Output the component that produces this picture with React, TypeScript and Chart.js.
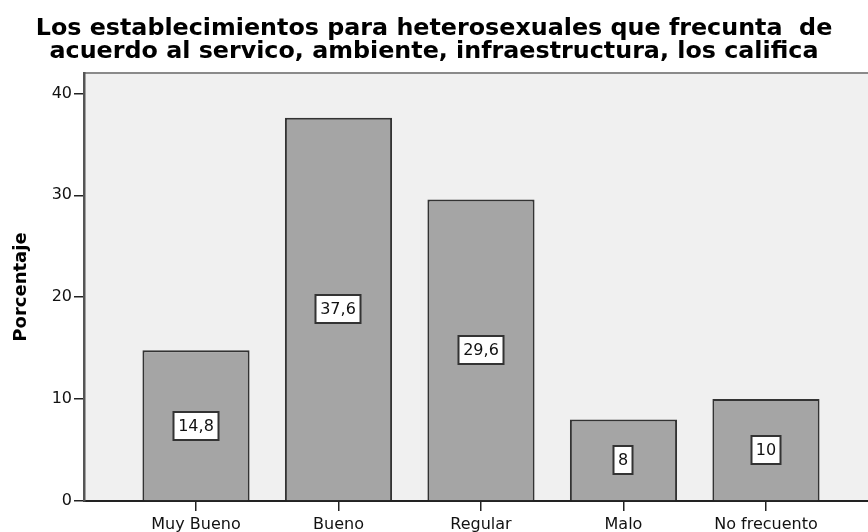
import { useEffect, useRef } from "react";
import { Chart, registerables } from "chart.js";

Chart.register(...registerables);

// Rating categories and their share of respondents (%)
const categories = ["Muy Bueno", "Bueno", "Regular", "Malo", "No frecuento"];
const percentages = [14.8, 37.6, 29.6, 8, 10];
const yTicks = [0, 10, 20, 30, 40];
const titleLines = [
  "Los establecimientos para heterosexuales que frecunta  de",
  "acuerdo al servico, ambiente, infraestructura, los califica",
];
const yAxisTitle = "Porcentaje";

const FONT = "'DejaVu Sans', 'Liberation Sans', sans-serif";
const INK = "#111111";

const formatValue = (v: number) => String(v).replace(".", ",");

// Light grey panel behind the bars, with a grey frame line along the top
const plotBackground = {
  id: "plotBackground",
  beforeDraw(chart: any) {
    const { ctx, chartArea: a } = chart;
    ctx.save();
    ctx.fillStyle = "#f0f0f0";
    ctx.fillRect(a.left, a.top, a.right - a.left, a.bottom - a.top);
    ctx.strokeStyle = "#8a8a8a";
    ctx.lineWidth = 2;
    ctx.beginPath();
    ctx.moveTo(a.left, a.top);
    ctx.lineTo(a.right, a.top);
    ctx.stroke();
    ctx.restore();
  },
};

// Boxed value label in the middle of each bar
const valueBoxes = {
  id: "valueBoxes",
  afterDatasetsDraw(chart: any) {
    const { ctx } = chart;
    const meta = chart.getDatasetMeta(0);
    const yScale = chart.scales.y;
    ctx.save();
    ctx.font = `16px ${FONT}`;
    ctx.textAlign = "center";
    ctx.textBaseline = "middle";
    meta.data.forEach((bar: any, i: number) => {
      const v = percentages[i];
      const text = formatValue(v);
      const cx = Math.round(bar.x);
      const cy = Math.round(yScale.getPixelForValue(v / 2));
      const w = Math.round(ctx.measureText(text).width + 9);
      const h = 28;
      const x0 = cx - w / 2;
      const y0 = cy - h / 2;
      ctx.fillStyle = "#ffffff";
      ctx.fillRect(x0, y0, w, h);
      ctx.strokeStyle = "#333333";
      ctx.lineWidth = 2;
      ctx.strokeRect(x0, y0, w, h);
      ctx.fillStyle = INK;
      ctx.fillText(text, cx, cy + 1);
    });
    ctx.restore();
  },
};

export default function App() {
  const canvasRef = useRef<HTMLCanvasElement | null>(null);

  useEffect(() => {
    const canvas = canvasRef.current;
    if (!canvas) return;

    const chart = new Chart(canvas, {
      type: "bar",
      data: {
        datasets: [
          {
            label: yAxisTitle,
            data: percentages.map((v, i) => ({ x: i, y: v })),
            backgroundColor: "#a5a5a5",
            borderColor: "#333333",
            borderWidth: 2,
            barPercentage: 0.752,
            categoryPercentage: 1,
          },
        ],
      },
      options: {
        responsive: false,
        animation: false,
        layout: { padding: 0 },
        plugins: {
          legend: { display: false },
          tooltip: { enabled: false },
          title: {
            display: true,
            text: titleLines,
            color: "#000",
            font: { family: FONT, size: 23.8, weight: "bold", lineHeight: 0.95 },
            padding: { top: 18, bottom: 9.8 },
          },
        },
        scales: {
          x: {
            type: "linear",
            offset: false,
            min: -0.786,
            max: categories.length - 1 + 0.716,
            afterBuildTicks: (s: any) => {
              s.ticks = categories.map((_, i) => ({ value: i }));
            },
            afterFit: (s: any) => {
              s.height = 31;
            },
            ticks: {
              callback: (v: any) => categories[v as number] ?? "",
              color: INK,
              font: { family: FONT, size: 16 },
              padding: 4,
              autoSkip: false,
              maxRotation: 0,
            },
            grid: {
              offset: false,
              drawOnChartArea: false,
              drawTicks: true,
              tickLength: 10,
              color: "#222",
              lineWidth: 1.5,
            },
            border: { color: "#222", width: 2 },
          },
          y: {
            min: 0,
            max: 42,
            afterBuildTicks: (s: any) => {
              s.ticks = yTicks.map((v) => ({ value: v }));
            },
            afterFit: (s: any) => {
              s.width = 84;
            },
            ticks: {
              color: INK,
              font: { family: FONT, size: 16 },
              padding: 2,
            },
            grid: {
              drawOnChartArea: false,
              drawTicks: true,
              tickLength: 10,
              color: "#222",
              lineWidth: 1.5,
            },
            border: { color: "#555", width: 2.5 },
            title: {
              display: true,
              text: yAxisTitle,
              color: "#000",
              font: { family: FONT, size: 18, weight: "bold" },
              padding: { top: 11, bottom: 0 },
            },
          },
        },
      },
      plugins: [plotBackground, valueBoxes],
    });

    return () => chart.destroy();
  }, []);

  return (
    <div
      style={{
        position: "fixed",
        left: 0,
        top: 0,
        width: 868,
        height: 532,
        background: "#fff",
        overflow: "hidden",
      }}
    >
      <canvas ref={canvasRef} width={868} height={532} style={{ display: "block" }} />
    </div>
  );
}
